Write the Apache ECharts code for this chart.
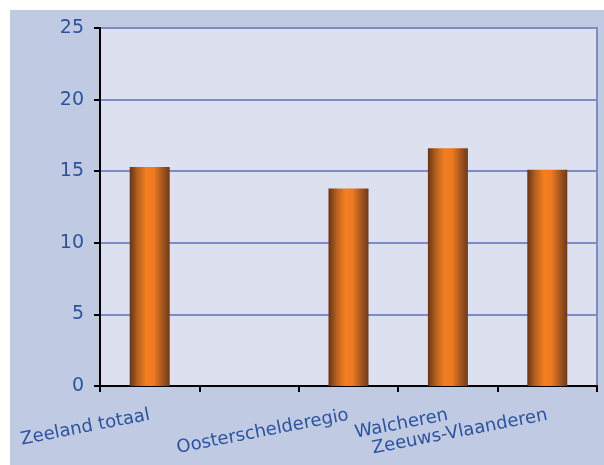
<!DOCTYPE html>
<html>
<head>
<meta charset="utf-8">
<script src="https://cdn.jsdelivr.net/npm/echarts@6/dist/echarts.min.js"></script>
<style>
  html, body { margin: 0; padding: 0; background: #ffffff; }
  #chart { position: absolute; left: 10px; top: 10px; width: 594px; height: 455px; }
</style>
</head>
<body>
<div id="chart"></div>
<script>
// regio's (tweede plek is leeg in het origineel)
var categories = ['Zeeland totaal', '', 'Oosterschelderegio', 'Walcheren', 'Zeeuws-Vlaanderen'];
var values = [15.3, null, 13.8, 16.6, 15.1];
var yTicks = [0, 5, 10, 15, 20, 25];

var labelColor = '#2b539e';
var barFill = new echarts.graphic.LinearGradient(0, 0, 1, 0, [
  { offset: 0, color: '#653417' },
  { offset: 0.2, color: '#b5601f' },
  { offset: 0.42, color: '#f37f22' },
  { offset: 0.6, color: '#ef7a22' },
  { offset: 0.85, color: '#9a511d' },
  { offset: 1, color: '#6e3a18' }
]);

var option = {
  backgroundColor: '#c0cbe3',
  animation: false,
  grid: {
    left: 90,
    top: 18,
    right: 7,
    bottom: 79,
    show: true,
    backgroundColor: '#dde0ef',
    borderColor: '#7f8cc2',
    borderWidth: 2
  },
  xAxis: {
    type: 'category',
    data: categories,
    axisLine: { lineStyle: { color: '#000', width: 2 } },
    axisTick: { show: true, length: 6, lineStyle: { color: '#000', width: 2 } },
    axisLabel: {
      interval: 0,
      rotate: 11,
      margin: 29,
      color: labelColor,
      fontFamily: 'DejaVu Sans',
      fontSize: 18
    },
    splitLine: { show: false }
  },
  yAxis: {
    type: 'value',
    min: yTicks[0],
    max: yTicks[yTicks.length - 1],
    interval: 5,
    axisLine: { show: true, lineStyle: { color: '#000', width: 2 } },
    axisTick: { show: true, length: 6, lineStyle: { color: '#000', width: 2 } },
    axisLabel: {
      margin: 16,
      color: labelColor,
      fontFamily: 'DejaVu Sans',
      fontSize: 19
    },
    splitLine: { lineStyle: { color: '#7f8cc2', width: 2 } }
  },
  series: [{
    type: 'bar',
    data: values,
    barWidth: 40,
    itemStyle: { color: barFill }
  }]
};

echarts.init(document.getElementById('chart')).setOption(option);
</script>
</body>
</html>
